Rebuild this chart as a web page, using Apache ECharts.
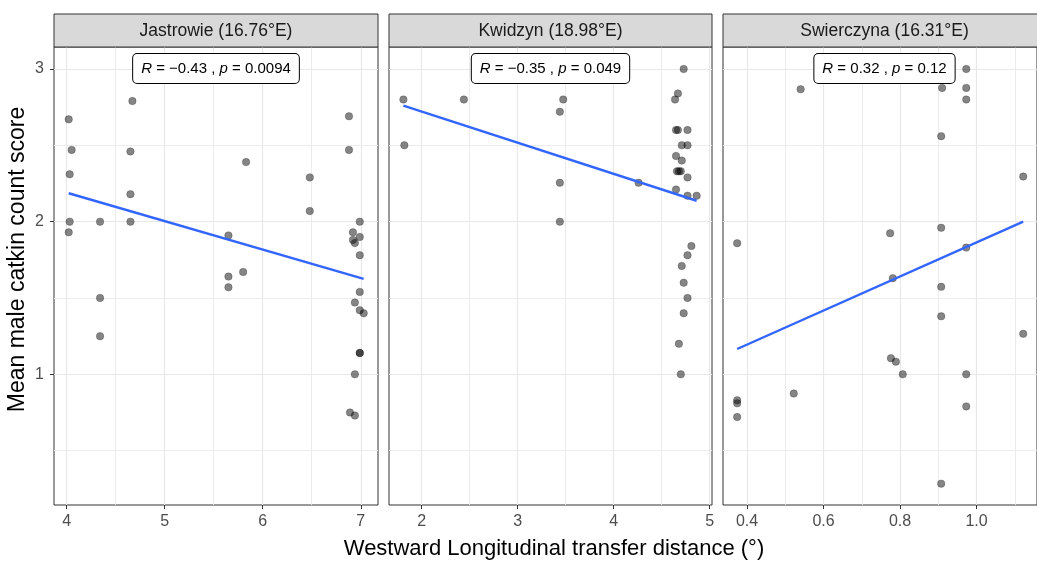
<!DOCTYPE html>
<html><head><meta charset="utf-8">
<script src="https://cdn.jsdelivr.net/npm/echarts@6/dist/echarts.min.js"></script>
<style>html,body{margin:0;padding:0;background:#fff}#c{width:1037px;height:561px}</style>
</head><body><div id="c"></div>
<script>
// ---- data ----
const panelTitles = ['Jastrowie (16.76°E)', 'Kwidzyn (18.98°E)', 'Swierczyna (16.31°E)'];
const statR = ['−0.43', '−0.35', '0.32'];
const statP = ['0.0094', '0.049', '0.12'];

const jastrowieX = [4.02, 4.05, 4.03, 4.03, 4.02, 4.34, 4.34, 4.34, 4.67, 4.65, 4.65, 4.65, 5.83, 5.65, 5.65, 5.65, 5.80, 6.48, 6.48, 6.88, 6.88, 6.99, 6.92, 6.99, 6.92, 6.94, 6.99, 6.99, 6.94, 6.99, 7.03, 6.99, 6.99, 6.94, 6.89, 6.94];
const jastrowieY = [2.67, 2.47, 2.31, 2.00, 1.93, 2.00, 1.50, 1.25, 2.79, 2.46, 2.18, 2.00, 2.39, 1.91, 1.64, 1.57, 1.67, 2.29, 2.07, 2.69, 2.47, 2.00, 1.93, 1.90, 1.88, 1.86, 1.78, 1.54, 1.47, 1.42, 1.40, 1.14, 1.14, 1.00, 0.75, 0.73];

const kwidzynX = [1.81, 1.82, 2.44, 3.475, 3.44, 3.44, 3.44, 4.26, 4.73, 4.67, 4.64, 4.65, 4.67, 4.77, 4.71, 4.77, 4.65, 4.71, 4.66, 4.70, 4.68, 4.77, 4.65, 4.77, 4.865, 4.81, 4.77, 4.71, 4.73, 4.77, 4.73, 4.68, 4.70];
const kwidzynY = [2.80, 2.50, 2.80, 2.80, 2.72, 2.255, 2.00, 2.255, 3.00, 2.84, 2.80, 2.60, 2.60, 2.60, 2.50, 2.50, 2.43, 2.40, 2.33, 2.33, 2.33, 2.29, 2.21, 2.17, 2.17, 1.84, 1.78, 1.71, 1.60, 1.50, 1.40, 1.20, 1.00];

const swierczynaX = [0.540, 0.973, 0.973, 0.973, 0.910, 0.9075, 1.122, 0.374, 0.774, 0.9075, 0.973, 0.781, 0.9075, 0.9075, 1.122, 0.776, 0.789, 0.807, 0.973, 0.973, 0.522, 0.374, 0.374, 0.374, 0.9075];
const swierczynaY = [2.867, 3.00, 2.876, 2.80, 2.876, 2.56, 2.295, 1.859, 1.924, 1.96, 1.83, 1.63, 1.573, 1.38, 1.265, 1.106, 1.083, 1.00, 1.00, 0.79, 0.874, 0.83, 0.81, 0.72, 0.284];

// fitted lm lines (end points)
const fitX = [[4.02, 7.03], [1.81, 4.865], [0.374, 1.122]];
const fitY = [[2.186, 1.625], [2.76, 2.137], [1.166, 2.0]];

const yTicks = [1, 2, 3];
const yMinor = [0.5, 1.5, 2.5];
const xTicks = [[4, 5, 6, 7], [2, 3, 4, 5], [0.4, 0.6, 0.8, 1.0]];
const xMinor = [[4.5, 5.5, 6.5], [2.5, 3.5, 4.5], [0.5, 0.7, 0.9, 1.1]];
const xRange = [[3.870, 7.176], [1.660, 5.025], [0.337, 1.158]];
const yRange = [0.144, 3.144];

const xTitle = 'Westward Longitudinal transfer distance (°)';
const yTitle = 'Mean male catkin count score';

// ---- layout ----
const FONT = "'Liberation Sans', Arial, sans-serif";
const panelLeft = [54, 389, 723];
const panelWidth = [324, 323, 323];
const panelTop = 47, panelHeight = 458, stripTop = 14, stripH = 33;

const xsAll = [jastrowieX, kwidzynX, swierczynaX];
const ysAll = [jastrowieY, kwidzynY, swierczynaY];

const grids = [], xAxes = [], yAxes = [], series = [], graphics = [];
for (let i = 0; i < 3; i++) {
  grids.push({left: panelLeft[i], top: panelTop, width: panelWidth[i], height: panelHeight,
    show: true, backgroundColor: '#fff', borderColor: '#333', borderWidth: 1, containLabel: false});
  xAxes.push({type: 'value', gridIndex: i, min: xRange[i][0], max: xRange[i][1],
    axisLine: {show: false}, splitLine: {show: false},
    axisTick: {show: true, length: 4, lineStyle: {color: '#333'}, customValues: xTicks[i]},
    axisLabel: {show: true, customValues: xTicks[i], color: '#4d4d4d', fontSize: 16, fontFamily: FONT, margin: 9,
      formatter: v => (i === 2 ? v.toFixed(1) : String(v))}
  });
  yAxes.push({type: 'value', gridIndex: i, min: yRange[0], max: yRange[1],
    axisLine: {show: false}, splitLine: {show: false},
    axisTick: {show: i === 0, length: 4, lineStyle: {color: '#333'}, customValues: yTicks},
    axisLabel: {show: i === 0, customValues: yTicks, color: '#4d4d4d', fontSize: 16, fontFamily: FONT, margin: 10}
  });
  const major = xTicks[i].map(v => ({xAxis: v})).concat(yTicks.map(v => ({yAxis: v})));
  const minor = xMinor[i].map(v => ({xAxis: v})).concat(yMinor.map(v => ({yAxis: v})));
  series.push({type: 'scatter', xAxisIndex: i, yAxisIndex: i, data: [], z: 1, silent: true,
    markLine: {silent: true, z: 1, symbol: ['none', 'none'], label: {show: false}, animation: false,
      lineStyle: {color: '#eaeaea', width: 0.9, type: 'solid'}, data: minor}});
  series.push({type: 'scatter', xAxisIndex: i, yAxisIndex: i, data: [], z: 1, silent: true,
    markLine: {silent: true, z: 1, symbol: ['none', 'none'], label: {show: false}, animation: false,
      lineStyle: {color: '#e8e8e8', width: 1.2, type: 'solid'}, data: major}});
  series.push({type: 'scatter', xAxisIndex: i, yAxisIndex: i, z: 3,
    data: xsAll[i].map((x, k) => [x, ysAll[i][k]]),
    symbolSize: 7.5, itemStyle: {color: 'rgba(0,0,0,0.6)', borderColor: 'rgba(0,0,0,0.35)', borderWidth: 0.8}});
  series.push({type: 'line', xAxisIndex: i, yAxisIndex: i, z: 4, showSymbol: false, symbol: 'none',
    data: fitX[i].map((x, k) => [x, fitY[i][k]]),
    lineStyle: {color: '#3366FF', width: 2.4}});

  const cx = panelLeft[i] + panelWidth[i] / 2;
  graphics.push({type: 'rect', z: 10, shape: {x: panelLeft[i], y: stripTop, width: panelWidth[i], height: stripH},
    style: {fill: '#d9d9d9', stroke: '#333', lineWidth: 1}});
  graphics.push({type: 'text', z: 11, x: cx, y: stripTop + stripH / 2 + 1,
    style: {text: panelTitles[i], fill: '#1a1a1a', fontSize: 17.5, fontFamily: FONT, align: 'center', verticalAlign: 'middle'}});
  graphics.push({type: 'text', z: 11, x: cx, y: 68.5,
    style: {text: '{i|R} = ' + statR[i] + ' , {i|p} = ' + statP[i],
      rich: {i: {fontStyle: 'italic', fontSize: 15, fontFamily: FONT, fill: '#000'}},
      fill: '#000', fontSize: 15, fontFamily: FONT, align: 'center', verticalAlign: 'middle',
      backgroundColor: '#fff', borderColor: '#000', borderWidth: 1, borderRadius: 4, padding: [7, 8, 7, 8]}});
}
// axis titles
graphics.push({type: 'text', z: 11, x: 554, y: 549,
  style: {text: xTitle, fill: '#000', fontSize: 22, fontFamily: FONT, align: 'center', verticalAlign: 'middle'}});
graphics.push({type: 'text', z: 11, x: 18, y: (stripTop + panelTop + panelHeight) / 2, rotation: Math.PI / 2,
  style: {text: yTitle, fill: '#000', fontSize: 23, fontFamily: FONT, align: 'center', verticalAlign: 'middle'}});

const chart = echarts.init(document.getElementById('c'), null, {renderer: 'canvas'});
chart.setOption({
  animation: false,
  backgroundColor: '#fff',
  textStyle: {fontFamily: FONT},
  grid: grids, xAxis: xAxes, yAxis: yAxes, series: series, graphic: graphics
});
</script>
</body></html>
